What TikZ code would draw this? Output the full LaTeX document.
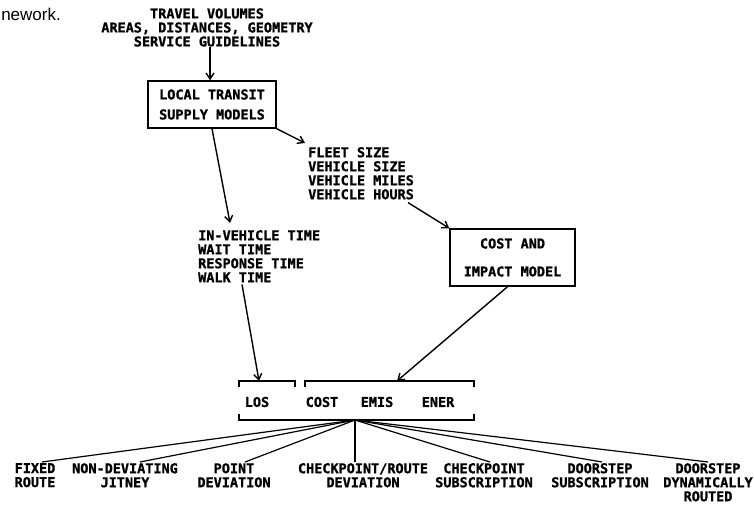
\documentclass[tikz,border=0pt]{standalone}
\usepackage{fontspec}
\usetikzlibrary{arrows.meta}
\setsansfont{Liberation Sans}
\newfontfamily\printfont{DejaVu Sans Mono}[BoldFeatures={FakeBold=1.2}]

\begin{document}
\begin{tikzpicture}[
    x=1pt, y=-1pt,
    txt/.style={font=\printfont\bfseries\fontsize{13.5}{14}\selectfont, inner sep=0pt},
    box/.style={draw, line width=1.5pt, txt, align=center},
    link/.style={line width=1.4pt, -{Straight Barb[length=6pt,width=8pt]}},
    mode/.style={txt, align=center, anchor=north, inner sep=1pt},
    fan/.style={line width=1.2pt}
  ]
    \useasboundingbox (0,0) rectangle (754,510);

    \node[font=\sffamily\fontsize{17}{19}\selectfont, anchor=east, inner sep=0pt] (caption) at (61,14) {nework.};

    \node[txt, align=center] (inputs) at (207,27.5)
        {TRAVEL VOLUMES\\AREAS, DISTANCES, GEOMETRY\\SERVICE GUIDELINES};

    \node[box, minimum width=128pt, minimum height=47pt] (supply) at (212,104.5)
        {LOCAL TRANSIT\\[6pt]SUPPLY MODELS};

    \node[txt, align=left, anchor=north west] (fleet) at (308,147)
        {FLEET SIZE\\VEHICLE SIZE\\VEHICLE MILES\\VEHICLE HOURS};

    \node[txt, align=left, anchor=north west] (invehicle) at (198,230)
        {IN-VEHICLE TIME\\WAIT TIME\\RESPONSE TIME\\WALK TIME};

    \node[box, minimum width=125pt, minimum height=57pt] (cost) at (512.5,257.5)
        {COST AND\\[14pt]IMPACT MODEL};

    % output brackets
    \coordinate (losTop) at (259,381);
    \coordinate (costTop) at (397,381);
    \coordinate (hub) at (355,420);
    \draw[fan, line width=1.5pt] (239,387) -- (239,381) -- (295,381) -- (295,387);
    \draw[fan, line width=1.5pt] (305,387) -- (305,381) -- (474,381) -- (474,387);
    \draw[fan, line width=1.5pt] (239,414) -- (239,420) -- (474,420) -- (474,414);

    \node[txt] (los)  at (257,402) {LOS};
    \node[txt] (cst)  at (322,402) {COST};
    \node[txt] (emis) at (377,402) {EMIS};
    \node[txt] (ener) at (438,402) {ENER};

    \node[mode] (fixed)    at (35,462)  {FIXED\\ROUTE};
    \node[mode] (jitney)   at (125,462) {NON-DEVIATING\\JITNEY};
    \node[mode] (point)    at (234,462) {POINT\\DEVIATION};
    \node[mode] (chkroute) at (363,462) {CHECKPOINT/ROUTE\\DEVIATION};
    \node[mode] (chksub)   at (484,462) {CHECKPOINT\\SUBSCRIPTION};
    \node[mode] (doorsub)  at (600,462) {DOORSTEP\\SUBSCRIPTION};
    \node[mode] (doordyn)  at (708,462) {DOORSTEP\\DYNAMICALLY\\ROUTED};

    \draw[link] ([xshift=3pt]inputs.south) -- ([xshift=-2pt]supply.north);
    \draw[link] (supply.south) -- ([xshift=32pt,yshift=7pt]invehicle.north west);
    \draw[link] (supply.south east) -- ([xshift=-3pt,yshift=4pt]fleet.north west);
    \draw[link] ([xshift=-6pt,yshift=-3pt]fleet.south east) -- (cost.north west);
    \draw[link] ([xshift=44pt,yshift=-2pt]invehicle.south west) -- (losTop);
    \draw[link] ([xshift=-5pt]cost.south) -- (costTop);

    \draw[fan] (hub) -- ([xshift=7pt]fixed.north);
    \draw[fan] (hub) -- ([xshift=15pt]jitney.north);
    \draw[fan] (hub) -- ([xshift=11pt]point.north);
    \draw[fan] (hub) -- ([xshift=-8pt]chkroute.north);
    \draw[fan] (hub) -- ([xshift=6pt]chksub.north);
    \draw[fan] (hub) -- ([xshift=2pt]doorsub.north);
    \draw[fan] (hub) -- (doordyn.north);
\end{tikzpicture}
\end{document}
